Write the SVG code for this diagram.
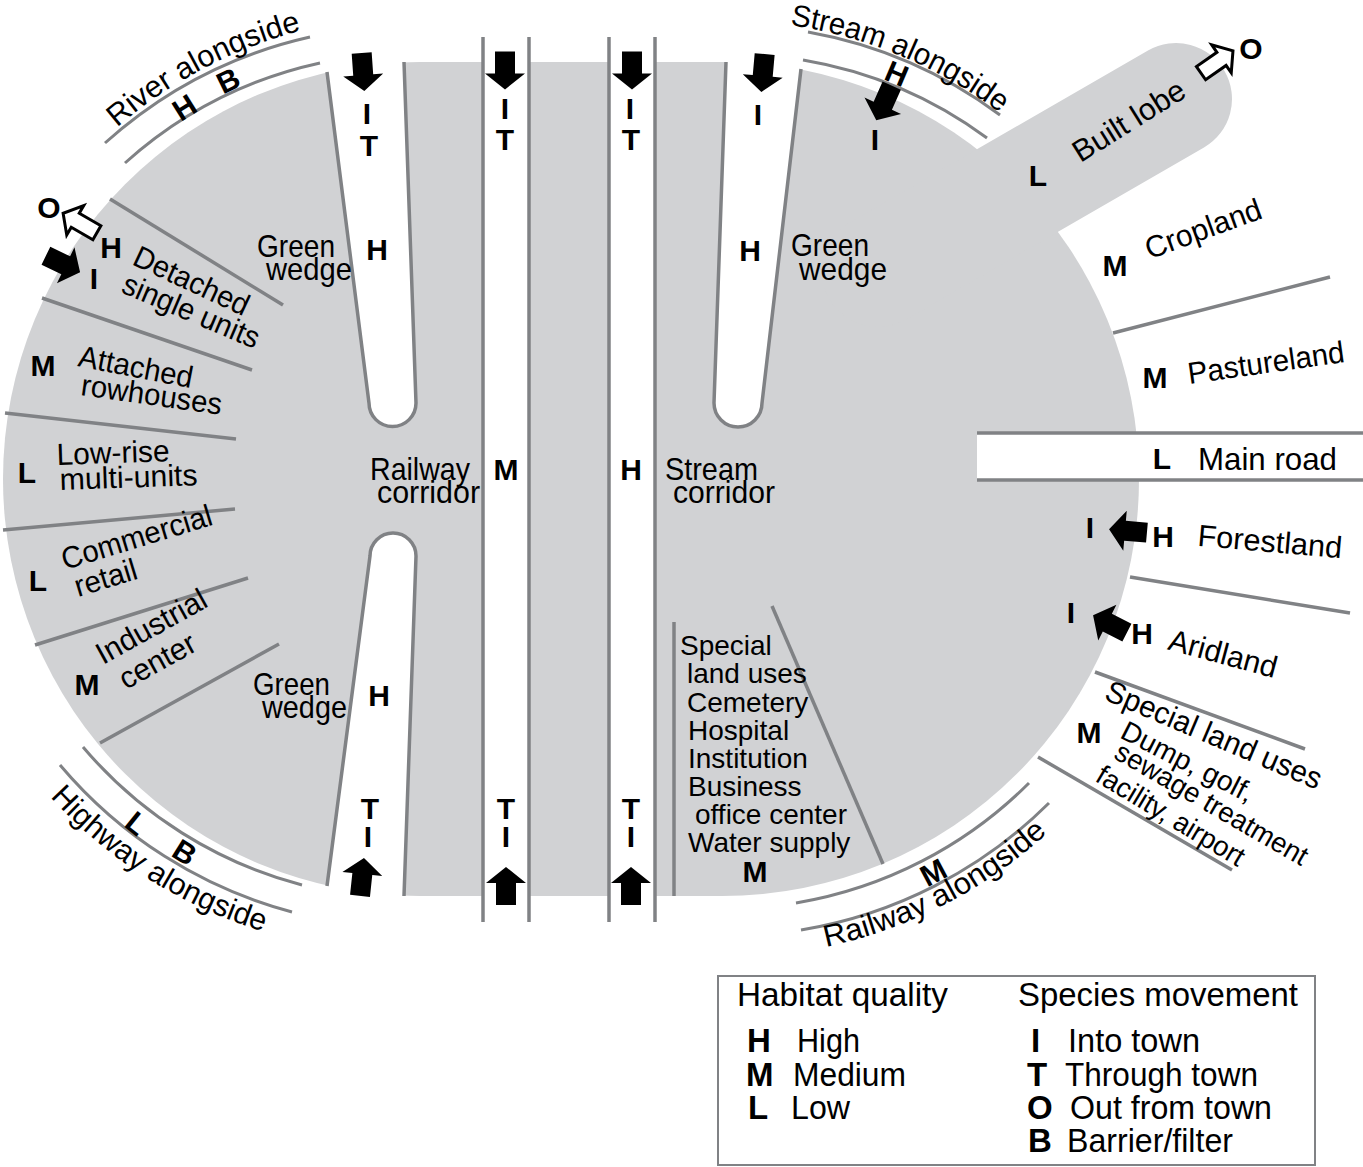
<svg xmlns="http://www.w3.org/2000/svg" width="1363" height="1167" viewBox="0 0 1363 1167">
<style>
text{font-family:"Liberation Sans",Arial,Helvetica,sans-serif;fill:#000}
.t{font-size:30.5px}
.s{font-size:28px}
.b{font-size:30px;font-weight:bold}
.lg{font-size:33px}
.gray{fill:#d1d2d4}
.wh{fill:#fff}
.ln{fill:none;stroke:#808285;stroke-width:3.5}
.arc{fill:none;stroke:#808285;stroke-width:3}
.mid{text-anchor:middle}
.blk{fill:#000}
.open{fill:#fff;stroke:#000;stroke-width:3;stroke-linejoin:miter}
</style>
<defs>
<path id="arr" d="M-10,-19 H10 V3 H20 L0,19 L-20,3 H-10 Z"/>
<path id="oarr" d="M-8,-19.5 H8 V5.5 H17 L0,19.5 L-17,5.5 H-8 Z"/>
<path id="pRiver" d="M117,127.5 A464,464 0 0 1 303.8,29.8"/>
<path id="pStream" d="M790,25 A460,460 0 0 1 1000,113"/>
<path id="pRail" d="M826,947 A480,480 0 0 0 1051,830"/>
<path id="pHigh" d="M50,797 A482,482 0 0 0 268,933"/>
</defs>
<rect width="1363" height="1167" fill="#fff"/>

<g id="town">
<path class="gray" d="M420,62 L722,62 A417,417 0 0 1 722,896 L420,896 A417,417 0 0 1 420,62 Z"/>
<rect id="built-lobe-shape" class="gray" x="776" y="43" width="456" height="112" rx="56" transform="rotate(-30 1176 99)"/>
</g>

<g id="green-wedges">
<path class="wh" d="M322,40 L327,72 L369,403 A23.5,23.5 0 0 0 416,403 L404,40 Z"/>
<path class="ln" d="M327,72 L369,403 A23.5,23.5 0 0 0 416,403 L404,62"/>
<path class="wh" d="M726,40 L726,62 L714,403 A24,24 0 0 0 762,403 L801,69 L804,40 Z"/>
<path class="ln" d="M726,62 L714,403 A24,24 0 0 0 762,403 L801,69"/>
<path class="wh" d="M327,886 L370,556 A23,23 0 0 1 416,556 L404,925 L320,925 Z"/>
<path class="ln" d="M327,886 L370,556 A23,23 0 0 1 416,556 L404,896"/>
</g>

<g id="corridors">
<rect class="wh" x="483" y="37" width="46" height="885"/>
<line class="ln" x1="483" y1="37" x2="483" y2="922"/>
<line class="ln" x1="529" y1="37" x2="529" y2="922"/>
<rect class="wh" x="609" y="37" width="46" height="885"/>
<line class="ln" x1="609" y1="37" x2="609" y2="922"/>
<line class="ln" x1="655" y1="37" x2="655" y2="922"/>
<rect class="wh" x="977" y="433" width="386" height="47"/>
<line class="ln" x1="977" y1="433" x2="1363" y2="433"/>
<line class="ln" x1="977" y1="480" x2="1363" y2="480"/>
</g>

<g id="separators">
<line class="ln" x1="110" y1="199" x2="283" y2="305"/>
<line class="ln" x1="42" y1="298" x2="252" y2="370"/>
<line class="ln" x1="5" y1="413" x2="236" y2="439"/>
<line class="ln" x1="3" y1="530" x2="235" y2="509"/>
<line class="ln" x1="35" y1="645" x2="248" y2="578"/>
<line class="ln" x1="100" y1="743" x2="279" y2="644"/>
<line class="ln" x1="674" y1="622" x2="674" y2="896"/>
<line class="ln" x1="772" y1="606" x2="883" y2="864"/>
<line class="ln" x1="1113" y1="333" x2="1330" y2="277"/>
<line class="ln" x1="1130" y1="577" x2="1350" y2="613"/>
<line class="ln" x1="1095" y1="672" x2="1305" y2="749"/>
<line class="ln" x1="1038" y1="757" x2="1232" y2="870"/>
</g>

<g id="alongside-arcs">
<path class="arc" d="M125,163 A430,430 0 0 1 320,63"/>
<path class="arc" d="M105,143 A457,457 0 0 1 310,37"/>
<path class="arc" d="M803,60 A430,430 0 0 1 987,138"/>
<path class="arc" d="M808,32 A457,457 0 0 1 1000,115"/>
<path class="arc" d="M796,903 A430,430 0 0 0 1029,783"/>
<path class="arc" d="M801,930 A457,457 0 0 0 1049,803"/>
<path class="arc" d="M83,747 A430,430 0 0 0 302,885"/>
<path class="arc" d="M60,765 A457,457 0 0 0 292,912"/>
</g>

<g id="connectors">
<use href="#arr" class="blk" transform="translate(363,72) rotate(-4)"/>
<use href="#arr" class="blk" transform="translate(505,70.5)"/>
<use href="#arr" class="blk" transform="translate(632,70.5)"/>
<use href="#arr" class="blk" transform="translate(763,73) rotate(5)"/>
<use href="#arr" class="blk" transform="translate(884,103) rotate(24)"/>
<use href="#arr" class="blk" transform="translate(63,264) rotate(-64)"/>
<use href="#arr" class="blk" transform="translate(1128,531) rotate(95)"/>
<use href="#arr" class="blk" transform="translate(1110,624) rotate(117)"/>
<use href="#arr" class="blk" transform="translate(362,877) rotate(186)"/>
<use href="#arr" class="blk" transform="translate(506,886) rotate(180)"/>
<use href="#arr" class="blk" transform="translate(631,886) rotate(180)"/>
<use href="#oarr" class="open" transform="translate(80,223) rotate(120)"/>
<use href="#oarr" class="open" transform="translate(1217,62) rotate(-125)"/>
</g>

<g id="arc-labels">
<text class="t"><textPath href="#pRiver" textLength="210" lengthAdjust="spacingAndGlyphs">River alongside</textPath></text>
<text class="t"><textPath href="#pStream" textLength="230" lengthAdjust="spacingAndGlyphs">Stream alongside</textPath></text>
<text class="t"><textPath href="#pRail" textLength="252" lengthAdjust="spacingAndGlyphs">Railway alongside</textPath></text>
<text class="t"><textPath href="#pHigh" textLength="255" lengthAdjust="spacingAndGlyphs">Highway alongside</textPath></text>
<text class="b mid" transform="translate(184,107) rotate(-32)" y="11">H</text>
<text class="b mid" transform="translate(228,80) rotate(-26)" y="11">B</text>
<text class="b mid" transform="translate(897,73) rotate(23)" y="11">H</text>
<text class="b mid" transform="translate(933,872) rotate(-28)" y="11">M</text>
<text class="b mid" transform="translate(137,823) rotate(39)" y="11">L</text>
<text class="b mid" transform="translate(185,852) rotate(32)" y="11">B</text>
</g>

<g id="wedge-top-left">
<text class="t" x="257" y="257" textLength="78" lengthAdjust="spacingAndGlyphs">Green</text>
<text class="t" x="266" y="280" textLength="86" lengthAdjust="spacingAndGlyphs">wedge</text>
<text class="b mid" x="367" y="124">I</text>
<text class="b mid" x="369" y="156">T</text>
<text class="b mid" x="377" y="260">H</text>
</g>

<g id="wedge-bottom-left">
<text class="t" x="253" y="695" textLength="77" lengthAdjust="spacingAndGlyphs">Green</text>
<text class="t" x="262" y="718" textLength="85" lengthAdjust="spacingAndGlyphs">wedge</text>
<text class="b mid" x="379" y="706">H</text>
<text class="b mid" x="370" y="819">T</text>
<text class="b mid" x="368" y="847">I</text>
</g>

<g id="wedge-top-right">
<text class="t" x="791" y="256" textLength="78" lengthAdjust="spacingAndGlyphs">Green</text>
<text class="t" x="799" y="280" textLength="88" lengthAdjust="spacingAndGlyphs">wedge</text>
<text class="b mid" x="758" y="125">I</text>
<text class="b mid" x="750" y="261">H</text>
<text class="b mid" x="875" y="150">I</text>
</g>

<g id="railway-corridor">
<text class="t" x="370" y="480" textLength="100" lengthAdjust="spacingAndGlyphs">Railway</text>
<text class="t" x="377" y="503" textLength="103" lengthAdjust="spacingAndGlyphs">corridor</text>
<text class="b mid" x="505" y="119">I</text>
<text class="b mid" x="505" y="150">T</text>
<text class="b mid" x="506" y="480">M</text>
<text class="b mid" x="506" y="819">T</text>
<text class="b mid" x="506" y="847">I</text>
</g>

<g id="stream-corridor">
<text class="t" x="665" y="480" textLength="93" lengthAdjust="spacingAndGlyphs">Stream</text>
<text class="t" x="673" y="503" textLength="102" lengthAdjust="spacingAndGlyphs">corridor</text>
<text class="b mid" x="630" y="119">I</text>
<text class="b mid" x="631" y="150">T</text>
<text class="b mid" x="631" y="480">H</text>
<text class="b mid" x="631" y="819">T</text>
<text class="b mid" x="631" y="847">I</text>
</g>

<g id="left-zones">
<text class="b mid" x="49" y="218">O</text>
<text class="b mid" x="111" y="258">H</text>
<text class="b mid" x="94" y="289">I</text>
<text class="t" x="131" y="264" transform="rotate(25 131 264)" textLength="124" lengthAdjust="spacingAndGlyphs">Detached</text>
<text class="t" x="120" y="292" transform="rotate(23 120 292)" textLength="146" lengthAdjust="spacingAndGlyphs">single units</text>
<text class="b mid" x="43" y="376">M</text>
<text class="t" x="77" y="366" transform="rotate(11 77 366)" textLength="116" lengthAdjust="spacingAndGlyphs">Attached</text>
<text class="t" x="80" y="395" transform="rotate(8 80 395)" textLength="142" lengthAdjust="spacingAndGlyphs">rowhouses</text>
<text class="b mid" x="27" y="483">L</text>
<text class="t" x="57" y="465" transform="rotate(-2 57 465)" textLength="113" lengthAdjust="spacingAndGlyphs">Low-rise</text>
<text class="t" x="60" y="490" transform="rotate(-2 60 490)" textLength="138" lengthAdjust="spacingAndGlyphs">multi-units</text>
<text class="b mid" x="38" y="591">L</text>
<text class="t" x="65" y="570" transform="rotate(-17 65 570)" textLength="156" lengthAdjust="spacingAndGlyphs">Commercial</text>
<text class="t" x="78" y="597" transform="rotate(-17 78 597)" textLength="64" lengthAdjust="spacingAndGlyphs">retail</text>
<text class="b mid" x="87" y="695">M</text>
<text class="t" x="103" y="665" transform="rotate(-29 103 665)" textLength="122" lengthAdjust="spacingAndGlyphs">Industrial</text>
<text class="t" x="126" y="690" transform="rotate(-29 126 690)" textLength="83" lengthAdjust="spacingAndGlyphs">center</text>
</g>

<g id="special-land-uses-inner">
<text class="s" x="680" y="655">Special</text>
<text class="s" x="687" y="683">land uses</text>
<text class="s" x="687" y="712">Cemetery</text>
<text class="s" x="688" y="740">Hospital</text>
<text class="s" x="688" y="768">Institution</text>
<text class="s" x="688" y="796">Business</text>
<text class="s" x="695" y="824">office center</text>
<text class="s" x="688" y="852">Water supply</text>
<text class="b mid" x="755" y="882">M</text>
</g>

<g id="right-zones">
<text class="b mid" x="1038" y="186">L</text>
<text class="t mid" transform="translate(1129,121) rotate(-32)" y="10" textLength="127" lengthAdjust="spacingAndGlyphs">Built lobe</text>
<text class="b mid" x="1251" y="59">O</text>
<text class="b mid" x="1115" y="276">M</text>
<text class="t mid" transform="translate(1204,231) rotate(-20)" y="8" textLength="122" lengthAdjust="spacingAndGlyphs">Cropland</text>
<text class="b mid" x="1155" y="388">M</text>
<text class="t mid" transform="translate(1266,363) rotate(-8)" y="10" textLength="158" lengthAdjust="spacingAndGlyphs">Pastureland</text>
<text class="b mid" x="1162" y="469">L</text>
<text class="t" x="1198" y="470" textLength="139" lengthAdjust="spacingAndGlyphs">Main road</text>
<text class="b mid" x="1090" y="538">I</text>
<text class="b mid" x="1163" y="547">H</text>
<text class="t mid" transform="translate(1270,542) rotate(5)" y="10" textLength="145" lengthAdjust="spacingAndGlyphs">Forestland</text>
<text class="b mid" x="1071" y="623">I</text>
<text class="b mid" x="1142" y="644">H</text>
<text class="t mid" transform="translate(1223,654) rotate(15)" y="10" textLength="111" lengthAdjust="spacingAndGlyphs">Aridland</text>
<text class="t mid" transform="translate(1213,737) rotate(23)" y="8" textLength="232" lengthAdjust="spacingAndGlyphs">Special land uses</text>
<text class="b mid" x="1089" y="743">M</text>
<text class="s mid" transform="translate(1187,763) rotate(27)" y="8" textLength="145" lengthAdjust="spacingAndGlyphs">Dump, golf,</text>
<text class="s mid" transform="translate(1211,805) rotate(30)" y="8" textLength="218" lengthAdjust="spacingAndGlyphs">sewage treatment</text>
<text class="s mid" transform="translate(1170,817) rotate(31)" y="8" textLength="168" lengthAdjust="spacingAndGlyphs">facility, airport</text>
</g>

<g id="legend">
<rect x="718" y="976" width="597" height="189" fill="#fff" stroke="#808285" stroke-width="2"/>
<text class="lg" x="737" y="1006" textLength="211" lengthAdjust="spacingAndGlyphs">Habitat quality</text>
<text class="lg" x="1018" y="1006" textLength="280" lengthAdjust="spacingAndGlyphs">Species movement</text>
<text class="lg" x="747" y="1052" font-weight="bold">H</text>
<text class="lg" x="797" y="1052" textLength="63" lengthAdjust="spacingAndGlyphs">High</text>
<text class="lg" x="746" y="1086" font-weight="bold">M</text>
<text class="lg" x="793" y="1086" textLength="113" lengthAdjust="spacingAndGlyphs">Medium</text>
<text class="lg" x="748" y="1119" font-weight="bold">L</text>
<text class="lg" x="791" y="1119" textLength="59" lengthAdjust="spacingAndGlyphs">Low</text>
<text class="lg" x="1031" y="1052" font-weight="bold">I</text>
<text class="lg" x="1068" y="1052" textLength="132" lengthAdjust="spacingAndGlyphs">Into town</text>
<text class="lg" x="1027" y="1086" font-weight="bold">T</text>
<text class="lg" x="1065" y="1086" textLength="193" lengthAdjust="spacingAndGlyphs">Through town</text>
<text class="lg" x="1027" y="1119" font-weight="bold">O</text>
<text class="lg" x="1070" y="1119" textLength="202" lengthAdjust="spacingAndGlyphs">Out from town</text>
<text class="lg" x="1028" y="1152" font-weight="bold">B</text>
<text class="lg" x="1067" y="1152" textLength="166" lengthAdjust="spacingAndGlyphs">Barrier/filter</text>
</g>
</svg>
